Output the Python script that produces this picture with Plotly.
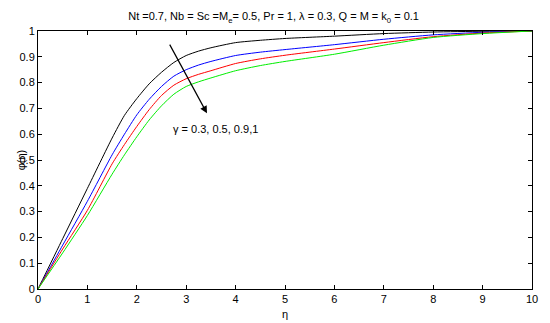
import plotly.graph_objects as go

eta = [0, 0.5, 1, 1.5, 1.75, 2, 2.25, 2.5, 2.75, 3, 3.25, 3.5, 4, 4.5, 5, 6, 7, 8, 9, 10]
phi_g03 = [0, 0.195, 0.39, 0.585, 0.673, 0.738, 0.795, 0.84, 0.878, 0.905, 0.922, 0.935, 0.955, 0.964, 0.971, 0.98, 0.99, 0.996, 0.999, 1.0]
phi_g05 = [0, 0.17, 0.34, 0.52, 0.6, 0.675, 0.735, 0.785, 0.825, 0.85, 0.868, 0.882, 0.905, 0.918, 0.928, 0.947, 0.968, 0.985, 0.995, 1.0]
phi_g09 = [0, 0.155, 0.305, 0.485, 0.56, 0.63, 0.695, 0.75, 0.79, 0.815, 0.832, 0.846, 0.874, 0.892, 0.906, 0.93, 0.955, 0.978, 0.992, 1.0]
phi_g1 = [0, 0.14, 0.285, 0.445, 0.52, 0.59, 0.655, 0.71, 0.755, 0.785, 0.803, 0.818, 0.846, 0.866, 0.882, 0.91, 0.945, 0.975, 0.99, 1.0]

series = [("γ = 0.3", phi_g03, "#000000"),
          ("γ = 0.5", phi_g05, "#0000ff"),
          ("γ = 0.9", phi_g09, "#ff0000"),
          ("γ = 1", phi_g1, "#00ee00")]

xticks = [0, 1, 2, 3, 4, 5, 6, 7, 8, 9, 10]
yticks = [0, 0.1, 0.2, 0.3, 0.4, 0.5, 0.6, 0.7, 0.8, 0.9, 1]

fig = go.Figure()
for name, y, c in series:
    fig.add_trace(go.Scatter(x=eta, y=y, mode="lines", name=name,
                             line=dict(color=c, width=1, shape="spline", smoothing=0.6)))

font = dict(family="Liberation Sans, Arial, sans-serif", size=11, color="#000")
axis_common = dict(showline=True, linecolor="#000", linewidth=1, mirror="ticks",
                   ticks="inside", ticklen=4, tickcolor="#000", showgrid=False,
                   zeroline=False, tickfont=font)

# page body has an 8px margin; size the figure so the plot sits where the reference has it
fig.update_layout(
    width=542, height=315,
    margin=dict(l=27, r=16, t=23, b=34),
    paper_bgcolor="white", plot_bgcolor="white",
    showlegend=False,
    font=font,
    title=dict(text="Nt =0.7, Nb = Sc =M<sub>e</sub>= 0.5, Pr = 1, λ = 0.3, Q = M = k<sub>0</sub> = 0.1",
               x=0.49, xanchor="center", y=0.985, yanchor="top", font=dict(size=11)),
    xaxis=dict(range=[0, 10], tickvals=xticks, ticktext=[str(v) for v in xticks], **axis_common),
    yaxis=dict(range=[0, 1], tickvals=yticks, ticktext=[f"{v:g}" for v in yticks], **axis_common),
)

fig.add_annotation(x=3.42, y=0.681, ax=2.65, ay=0.953, xref="x", yref="y", axref="x", ayref="y",
                   showarrow=True, arrowhead=2, arrowsize=1.2, arrowwidth=1.2, arrowcolor="#000", text="")
fig.add_annotation(x=2.7, y=0.62, xref="x", yref="y", text="γ = 0.3, 0.5, 0.9,1",
                   showarrow=False, xanchor="left", yanchor="middle", font=font)
fig.add_annotation(x=0.5, y=-0.065, xref="paper", yref="paper", text="η", showarrow=False,
                   yanchor="top", font=font)
fig.add_annotation(x=-0.05, y=0.5, xref="paper", yref="paper", text="φ(η)", showarrow=False,
                   textangle=-90, font=font)

fig.write_html("out.html")
